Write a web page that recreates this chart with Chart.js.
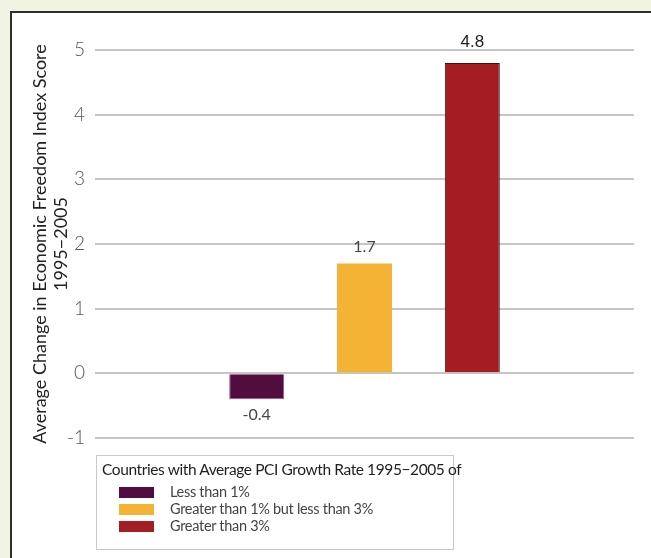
<!DOCTYPE html>
<html>
<head>
<meta charset="utf-8">
<script src="https://cdn.jsdelivr.net/npm/chart.js@4/dist/chart.umd.min.js"></script>
<style>
  body { margin: 0; background: #f1f4e3; font-family: Lato, sans-serif; }
  #panel { position: absolute; left: 10px; top: 11px; width: 660px; height: 570px;
           background: #fff; border-left: 2px solid #2e2e2e; border-top: 2px solid #2e2e2e; }
  #wrap { position: absolute; left: 0; top: 0; width: 651px; height: 558px; }
  #legend { position: absolute; left: 96px; top: 455px; width: 356px; height: 93px;
            border: 1px solid #c9c9c9; background: #fff; }
  #legend .ttl { position: absolute; left: 5px; top: 4px; font-size: 15.5px; letter-spacing: -0.4px;
                 color: #1e1e1e; white-space: nowrap; }
  #legend .row { position: absolute; left: 22px; height: 17px; font-size: 14.5px; letter-spacing: -0.3px;
                 color: #444; white-space: nowrap; }
  #legend .sw { position: absolute; left: 0; top: 3px; width: 35px; height: 11px; }
  #legend .lb { position: absolute; left: 51px; top: -1px; }
</style>
</head>
<body>
<div id="panel"></div>
<div id="wrap"><canvas id="myChart" width="651" height="558"></canvas></div>
<div id="legend"></div>
<script>
/****************************************************/
/*****************chart data*************************/
/****************************************************/
let legendTitle = 'Countries with Average PCI Growth Rate 1995\u22122005 of';
let groups = ['Less than 1%', 'Greater than 1% but less than 3%', 'Greater than 3%'];
let values = [-0.4, 1.7, 4.8];
let valueText = ['-0.4', '1.7', '4.8'];
let yTicks = [-1, 0, 1, 2, 3, 4, 5];
let yTitle = ['Average Change in Economic Freedom Index Score', '1995\u22122005'];

let fills = ['#520c40', '#f5b335', '#a31d22'];
let borders = ['#8c5f82', '#f5b335', '#3a1212'];

// value labels drawn over the bars
let valueLabels = {
  id: 'valueLabels',
  afterDatasetsDraw(chart) {
    let ctx = chart.ctx;
    ctx.save();
    ctx.textAlign = 'center';
    ctx.textBaseline = 'middle';
    chart.data.datasets.forEach((ds, i) => {
      let bar = chart.getDatasetMeta(i).data[0];
      let v = ds.data[0];
      if (i === 2) {
        ctx.font = '17px "Liberation Sans", Arial, sans-serif';
        ctx.fillStyle = '#222';
      } else {
        ctx.font = '16px Lato, sans-serif';
        ctx.fillStyle = '#444';
      }
      let y = v >= 0 ? bar.y - (i === 2 ? 21 : 17) : bar.y + 16;
      ctx.fillText(valueText[i], bar.x, y);
    });
    ctx.restore();
  }
};

let ctx = document.getElementById('myChart').getContext('2d');
let myChart = new Chart(ctx, {
  type: 'bar',
  data: {
    labels: [''],
    datasets: groups.map((g, i) => ({
      label: g,
      data: [values[i]],
      backgroundColor: fills[i],
      borderColor: borders[i],
      borderWidth: i === 1 ? 0 : 1,
      categoryPercentage: 0.6,
      barPercentage: 0.51
    }))
  },
  options: {
    responsive: false,
    animation: false,
    layout: { padding: { left: 29, right: 17, top: 50, bottom: 120 } },
    plugins: {
      legend: { display: false },
      tooltip: { enabled: false }
    },
    scales: {
      x: { display: false },
      y: {
        min: yTicks[0],
        max: yTicks[yTicks.length - 1],
        afterBuildTicks: axis => { axis.ticks = yTicks.map(v => ({ value: v })); },
        afterFit: axis => { axis.width = 66; },
        border: { display: false },
        grid: { color: '#c6c6c6', lineWidth: 2, drawTicks: false },
        ticks: {
          padding: 10,
          color: '#555',
          font: { family: 'Lato', size: 19, weight: 300 }
        },
        title: {
          display: true,
          text: yTitle,
          color: '#222',
          font: { family: 'Lato', size: 18 },
          padding: { top: 0, bottom: 0 }
        }
      }
    }
  },
  plugins: [valueLabels]
});

// legend box
let legendDiv = document.getElementById('legend');
let html = '<div class="ttl">' + legendTitle + '</div>';
groups.forEach((g, i) => {
  html += '<div class="row" style="top:' + (28 + i * 17) + 'px"><div class="sw" style="background:' +
    fills[i] + '"></div><div class="lb">' + g + '</div></div>';
});
legendDiv.innerHTML = html;
</script>
</body>
</html>
